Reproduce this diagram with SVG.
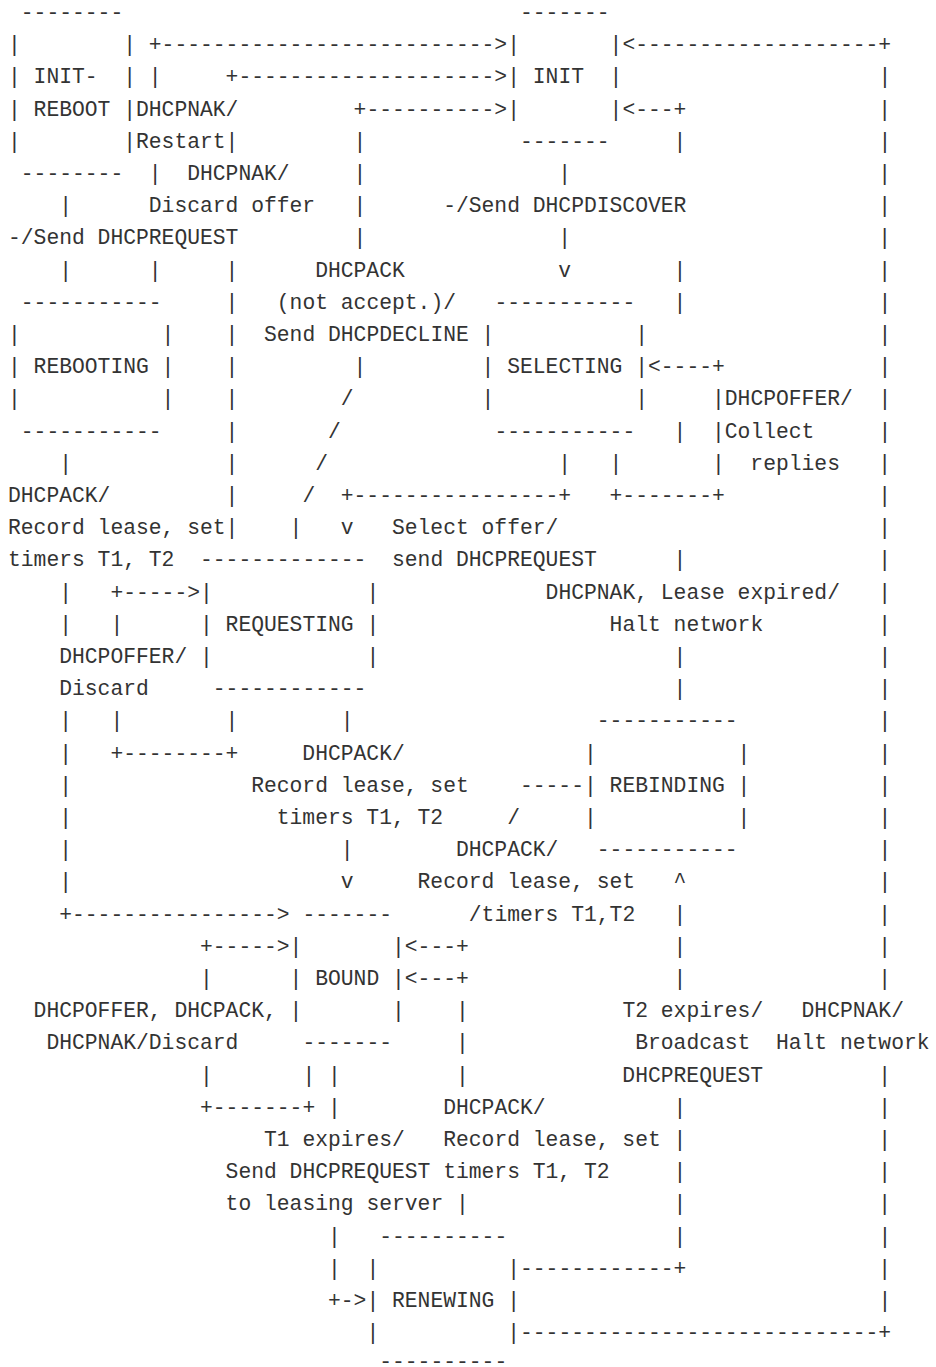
<svg xmlns="http://www.w3.org/2000/svg" width="936" height="1367" viewBox="0 0 936 1367" xml:space="preserve">
<style>
text{font-family:"Liberation Mono","DejaVu Sans Mono",monospace;font-size:21.333px;fill:#333333;white-space:pre}
</style>
<rect width="936" height="1367" fill="#ffffff"/>
<g id="node-init-reboot">
<text x="20.8" y="18.9">--------</text>
<text x="8" y="51.1">|        |</text>
<text x="8" y="83.3">| INIT-  |</text>
<text x="8" y="115.5">| REBOOT |</text>
<text x="8" y="147.7">|        |</text>
<text x="20.8" y="179.9">--------</text>
</g>
<g id="node-init">
<text x="520" y="18.9">-------</text>
<text x="507.2" y="51.1">|       |</text>
<text x="507.2" y="83.3">| INIT  |</text>
<text x="507.2" y="115.5">|       |</text>
<text x="520" y="147.7">-------</text>
</g>
<g id="node-rebooting">
<text x="20.8" y="308.7">-----------</text>
<text x="8" y="340.9">|           |</text>
<text x="8" y="373.1">| REBOOTING |</text>
<text x="8" y="405.3">|           |</text>
<text x="20.8" y="437.5">-----------</text>
</g>
<g id="node-selecting">
<text x="494.4" y="308.7">-----------</text>
<text x="481.6" y="340.9">|           |</text>
<text x="481.6" y="373.1">| SELECTING |</text>
<text x="481.6" y="405.3">|           |</text>
<text x="494.4" y="437.5">-----------</text>
</g>
<g id="node-requesting">
<text x="200" y="566.3">-------------</text>
<text x="200" y="598.5">|            |</text>
<text x="200" y="630.7">| REQUESTING |</text>
<text x="200" y="662.9">|            |</text>
<text x="212.8" y="695.1">------------</text>
</g>
<g id="node-rebinding">
<text x="596.8" y="727.3">-----------</text>
<text x="584" y="759.5">|           |</text>
<text x="584" y="791.7">| REBINDING |</text>
<text x="584" y="823.9">|           |</text>
<text x="596.8" y="856.1">-----------</text>
</g>
<g id="node-bound">
<text x="302.4" y="920.5">-------</text>
<text x="289.6" y="952.7">|       |</text>
<text x="289.6" y="984.9">| BOUND |</text>
<text x="289.6" y="1017.1">|       |</text>
<text x="302.4" y="1049.3">-------</text>
</g>
<g id="node-renewing">
<text x="379.2" y="1242.5">----------</text>
<text x="366.4" y="1274.7">|          |</text>
<text x="366.4" y="1306.9">| RENEWING |</text>
<text x="366.4" y="1339.1">|          |</text>
<text x="379.2" y="1368">----------</text>
</g>
<g id="connectors">
<text x="148.8" y="51.1">+--------------------------&gt;</text>
<text x="622.4" y="51.1">&lt;-------------------+</text>
<text x="148.8" y="83.3">|     +--------------------&gt;</text>
<text x="878.4" y="83.3">|</text>
<text x="136" y="115.5">DHCPNAK/         +----------&gt;</text>
<text x="622.4" y="115.5">&lt;---+               |</text>
<text x="136" y="147.7">Restart|         |</text>
<text x="673.6" y="147.7">|               |</text>
<text x="148.8" y="179.9">|  DHCPNAK/     |               |                        |</text>
<text x="59.2" y="212.1">|      Discard offer   |      -/Send DHCPDISCOVER               |</text>
<text x="8" y="244.3">-/Send DHCPREQUEST         |               |                        |</text>
<text x="59.2" y="276.5">|      |     |      DHCPACK            v        |               |</text>
<text x="225.6" y="308.7">|   (not accept.)/</text>
<text x="673.6" y="308.7">|               |</text>
<text x="225.6" y="340.9">|  Send DHCPDECLINE</text>
<text x="878.4" y="340.9">|</text>
<text x="225.6" y="373.1">|         |</text>
<text x="648" y="373.1">&lt;----+            |</text>
<text x="225.6" y="405.3">|        /</text>
<text x="712" y="405.3">|DHCPOFFER/  |</text>
<text x="225.6" y="437.5">|       /</text>
<text x="673.6" y="437.5">|  |Collect     |</text>
<text x="59.2" y="469.7">|            |      /                  |   |       |  replies   |</text>
<text x="8" y="501.9">DHCPACK/         |     /  +----------------+   +-------+            |</text>
<text x="8" y="534.1">Record lease, set|    |   v   Select offer/                         |</text>
<text x="8" y="566.3">timers T1, T2</text>
<text x="392" y="566.3">send DHCPREQUEST      |               |</text>
<text x="59.2" y="598.5">|   +-----&gt;</text>
<text x="545.6" y="598.5">DHCPNAK, Lease expired/   |</text>
<text x="59.2" y="630.7">|   |</text>
<text x="609.6" y="630.7">Halt network         |</text>
<text x="59.2" y="662.9">DHCPOFFER/</text>
<text x="673.6" y="662.9">|               |</text>
<text x="59.2" y="695.1">Discard</text>
<text x="673.6" y="695.1">|               |</text>
<text x="59.2" y="727.3">|   |        |        |</text>
<text x="878.4" y="727.3">|</text>
<text x="59.2" y="759.5">|   +--------+     DHCPACK/</text>
<text x="878.4" y="759.5">|</text>
<text x="59.2" y="791.7">|              Record lease, set    -----</text>
<text x="878.4" y="791.7">|</text>
<text x="59.2" y="823.9">|                timers T1, T2     /</text>
<text x="878.4" y="823.9">|</text>
<text x="59.2" y="856.1">|                     |        DHCPACK/</text>
<text x="878.4" y="856.1">|</text>
<text x="59.2" y="888.3">|                     v     Record lease, set   ^</text>
<text x="878.4" y="888.3">|</text>
<text x="59.2" y="920.5">+----------------&gt;</text>
<text x="468.8" y="920.5">/timers T1,T2   |               |</text>
<text x="200" y="952.7">+-----&gt;</text>
<text x="404.8" y="952.7">&lt;---+                |               |</text>
<text x="200" y="984.9">|</text>
<text x="404.8" y="984.9">&lt;---+                |               |</text>
<text x="33.6" y="1017.1">DHCPOFFER, DHCPACK,</text>
<text x="456" y="1017.1">|            T2 expires/   DHCPNAK/</text>
<text x="46.4" y="1049.3">DHCPNAK/Discard</text>
<text x="456" y="1049.3">|             Broadcast  Halt network</text>
<text x="200" y="1081.5">|       | |         |            DHCPREQUEST         |</text>
<text x="200" y="1113.7">+-------+ |        DHCPACK/          |               |</text>
<text x="264" y="1145.9">T1 expires/   Record lease, set |               |</text>
<text x="225.6" y="1178.1">Send DHCPREQUEST timers T1, T2     |               |</text>
<text x="225.6" y="1210.3">to leasing server |                |               |</text>
<text x="328" y="1242.5">|</text>
<text x="673.6" y="1242.5">|               |</text>
<text x="328" y="1274.7">|</text>
<text x="520" y="1274.7">------------+               |</text>
<text x="328" y="1306.9">+-&gt;</text>
<text x="878.4" y="1306.9">|</text>
<text x="520" y="1339.1">----------------------------+</text>
</g>
</svg>
